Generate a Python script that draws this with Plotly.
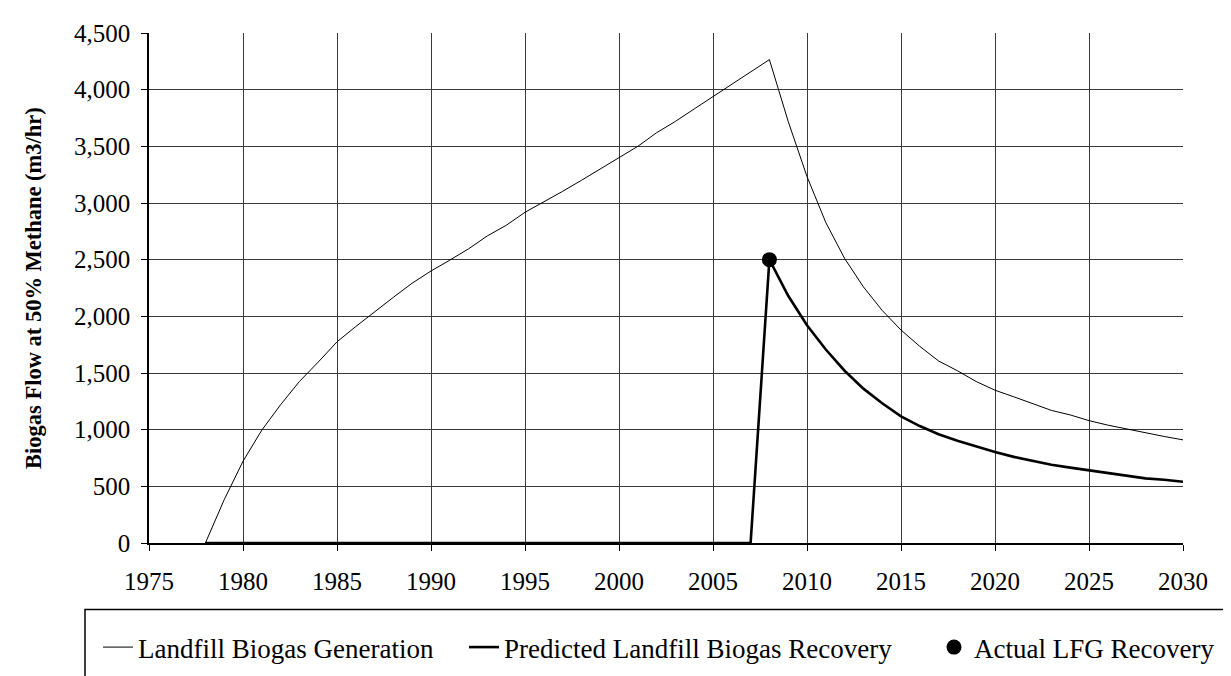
import plotly.graph_objects as go

years = list(range(1978, 2031))

generation = [0, 382, 721, 996, 1220, 1425, 1596, 1775, 1910, 2043,
              2168, 2293, 2400, 2496, 2596, 2710, 2803, 2918, 3007, 3103,
              3200, 3300, 3400, 3500, 3620, 3720, 3830, 3940, 4050, 4155,
              4265, 3720, 3233, 2828, 2511, 2260, 2052, 1879, 1735, 1606,
              1520, 1425, 1348, 1290, 1230, 1170, 1130, 1080, 1040, 1005,
              970, 940, 910]

recovery = [0] * 30 + [2500, 2181, 1922, 1707, 1520, 1362, 1233, 1118, 1032, 960,
                       902, 850, 802, 760, 725, 690, 665, 640, 615, 590,
                       570, 558, 540]

actual_year = [2008]
actual_value = [2500]

y_ticks = list(range(0, 4501, 500))
x_ticks = list(range(1975, 2031, 5))

W, H = 1231, 676
L, R, T, B = 141, 56, 16, 138
pw = W - L - R
ph = H - T - B

def px_x(px):
    return (px - L) / pw

def px_y(py):
    return (H - B - py) / ph

FONT = "Liberation Serif"
LEG_FONT = dict(family=FONT, size=27, color="black")

def leg(xpx):
    return dict(orientation="h", x=px_x(xpx), y=px_y(645), xanchor="left",
                yanchor="middle", font=LEG_FONT, bgcolor="rgba(0,0,0,0)",
                borderwidth=0, itemwidth=30)

fig = go.Figure()
fig.add_trace(go.Scatter(x=years, y=generation, mode="lines",
                         name="Landfill Biogas Generation", legend="legend",
                         line=dict(color="black", width=1)))
fig.add_trace(go.Scatter(x=years, y=recovery, mode="lines",
                         name="Predicted Landfill Biogas Recovery", legend="legend2",
                         line=dict(color="black", width=2.6)))
fig.add_trace(go.Scatter(x=actual_year, y=actual_value, mode="markers",
                         name="Actual LFG Recovery", legend="legend3",
                         marker=dict(color="black", size=15, symbol="circle")))

fig.update_layout(
    width=W, height=H,
    margin=dict(l=L, r=R, t=T, b=B),
    paper_bgcolor="white", plot_bgcolor="white",
    font=dict(family=FONT, color="black", size=25),
    showlegend=True,
    legend=leg(90),
    legend2=leg(456),
    legend3=leg(926),
    xaxis=dict(range=[1975, 2030], tickmode="array", tickvals=x_ticks,
               ticktext=[str(v) for v in x_ticks],
               showgrid=True, gridcolor="#3a3a3a", gridwidth=1,
               showline=True, linecolor="black", linewidth=1.5,
               ticks="outside", ticklen=6, tickcolor="black",
               ticklabelstandoff=9,
               tickfont=dict(family=FONT, size=25, color="black"),
               zeroline=False, mirror=False),
    yaxis=dict(range=[0, 4500], tickmode="array", tickvals=y_ticks,
               ticktext=[f"{v:,}" for v in y_ticks],
               showgrid=True, gridcolor="#3a3a3a", gridwidth=1,
               showline=True, linecolor="black", linewidth=1.5,
               ticks="outside", ticklen=6, tickcolor="black",
               ticklabelstandoff=6,
               tickfont=dict(family=FONT, size=25, color="black"),
               zeroline=False),
    annotations=[dict(text="<b>Biogas Flow at 50% Methane (m3/hr)</b>",
                      xref="paper", yref="paper", x=px_x(25), y=0.5,
                      xanchor="center", yanchor="middle", textangle=-90,
                      showarrow=False,
                      font=dict(family=FONT, size=22.5, color="black"))],
    shapes=[dict(type="rect", xref="paper", yref="paper",
                 x0=px_x(77), x1=px_x(1221), y0=px_y(606), y1=px_y(700),
                 line=dict(color="black", width=1.5), fillcolor="rgba(0,0,0,0)")],
)

fig.write_html("out.html")
